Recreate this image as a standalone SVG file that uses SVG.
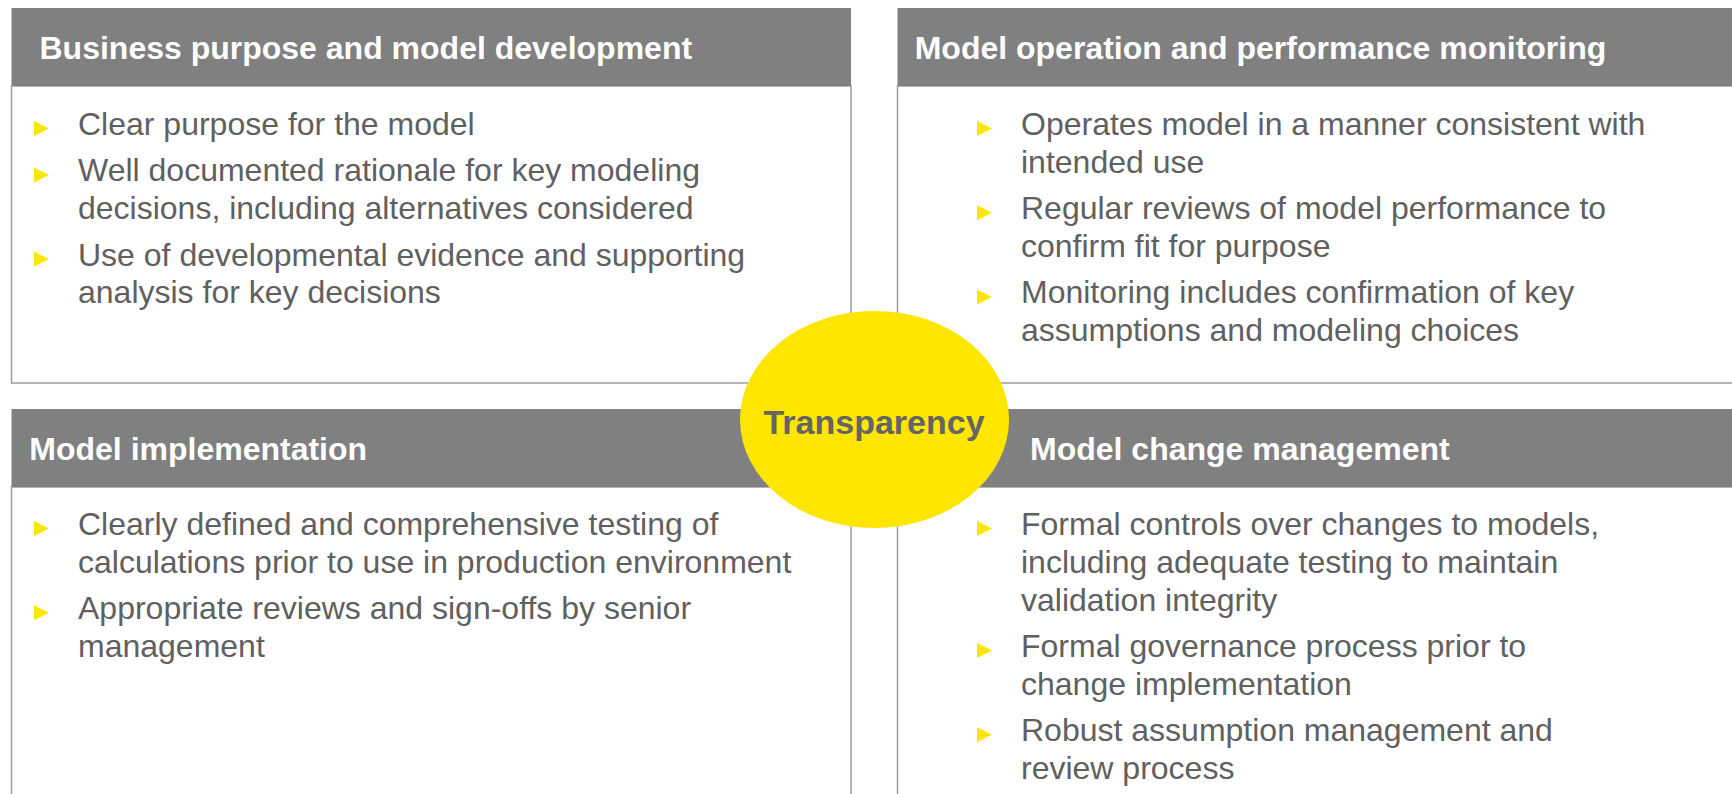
<svg xmlns="http://www.w3.org/2000/svg" width="1732" height="794" viewBox="0 0 1732 794">
  <defs>
    <style>
      .hdr { fill: #808080; }
      .body { fill: #ffffff; stroke: #9c9c9c; stroke-width: 1.5; }
      .htxt { font-family: "Liberation Sans", Arial, sans-serif; font-weight: bold; font-size: 32px; fill: #ffffff; }
      .btxt { font-family: "Liberation Sans", Arial, sans-serif; font-size: 32px; fill: #606060; }
      .bul { fill: #FFE600; }
      .ctr { font-family: "Liberation Sans", Arial, sans-serif; font-weight: bold; font-size: 34px; fill: #646464; }
    </style>
    <polygon id="tri" points="0,-14 15,-6.5 0,1"/>
  </defs>
  <rect width="1732" height="794" fill="#ffffff"/>

  <g id="connectors"/>

  <g id="panel-business">
    <rect class="body" x="11.5" y="86" width="839.5" height="297"/>
    <rect class="hdr" x="11.5" y="8" width="839.5" height="78"/>
    <text class="htxt" x="39.5" y="58.5">Business purpose and model development</text>
    <use href="#tri" class="bul" x="34" y="135"/>
    <text class="btxt" x="78" y="135">Clear purpose for the model</text>
    <use href="#tri" class="bul" x="34" y="181.4"/>
    <text class="btxt" x="78" y="181.4">Well documented rationale for key modeling</text>
    <text class="btxt" x="78" y="219.2">decisions, including alternatives considered</text>
    <use href="#tri" class="bul" x="34" y="265.6"/>
    <text class="btxt" x="78" y="265.6">Use of developmental evidence and supporting</text>
    <text class="btxt" x="78" y="303.4">analysis for key decisions</text>
  </g>

  <g id="panel-operation">
    <rect class="body" x="897.5" y="86" width="850" height="297"/>
    <rect class="hdr" x="897.5" y="8" width="850" height="78"/>
    <text class="htxt" x="914.7" y="58.5">Model operation and performance monitoring</text>
    <use href="#tri" class="bul" x="977" y="135"/>
    <text class="btxt" x="1021" y="135">Operates model in a manner consistent with</text>
    <text class="btxt" x="1021" y="172.8">intended use</text>
    <use href="#tri" class="bul" x="977" y="219.2"/>
    <text class="btxt" x="1021" y="219.2">Regular reviews of model performance to</text>
    <text class="btxt" x="1021" y="257">confirm fit for purpose</text>
    <use href="#tri" class="bul" x="977" y="303.4"/>
    <text class="btxt" x="1021" y="303.4">Monitoring includes confirmation of key</text>
    <text class="btxt" x="1021" y="341.2">assumptions and modeling choices</text>
  </g>

  <g id="panel-implementation">
    <rect class="body" x="11.5" y="487" width="839.5" height="330"/>
    <rect class="hdr" x="11.5" y="409" width="839.5" height="78"/>
    <text class="htxt" x="29.3" y="459.5">Model implementation</text>
    <use href="#tri" class="bul" x="34" y="535"/>
    <text class="btxt" x="78" y="535">Clearly defined and comprehensive testing of</text>
    <text class="btxt" x="78" y="572.8">calculations prior to use in production environment</text>
    <use href="#tri" class="bul" x="34" y="619.2"/>
    <text class="btxt" x="78" y="619.2">Appropriate reviews and sign-offs by senior</text>
    <text class="btxt" x="78" y="657">management</text>
  </g>

  <g id="panel-change">
    <rect class="body" x="897.5" y="487" width="850" height="330"/>
    <rect class="hdr" x="897.5" y="409" width="850" height="78"/>
    <text class="htxt" x="1030" y="459.5">Model change management</text>
    <use href="#tri" class="bul" x="977" y="535"/>
    <text class="btxt" x="1021" y="535">Formal controls over changes to models,</text>
    <text class="btxt" x="1021" y="572.8">including adequate testing to maintain</text>
    <text class="btxt" x="1021" y="610.6">validation integrity</text>
    <use href="#tri" class="bul" x="977" y="657"/>
    <text class="btxt" x="1021" y="657">Formal governance process prior to</text>
    <text class="btxt" x="1021" y="694.8">change implementation</text>
    <use href="#tri" class="bul" x="977" y="741.2"/>
    <text class="btxt" x="1021" y="741.2">Robust assumption management and</text>
    <text class="btxt" x="1021" y="779">review process</text>
  </g>

  <g id="transparency">
    <ellipse cx="874.5" cy="419.5" rx="134.5" ry="108.5" fill="#FFE600"/>
    <text class="ctr" x="874" y="433.5" text-anchor="middle">Transparency</text>
  </g>
</svg>
